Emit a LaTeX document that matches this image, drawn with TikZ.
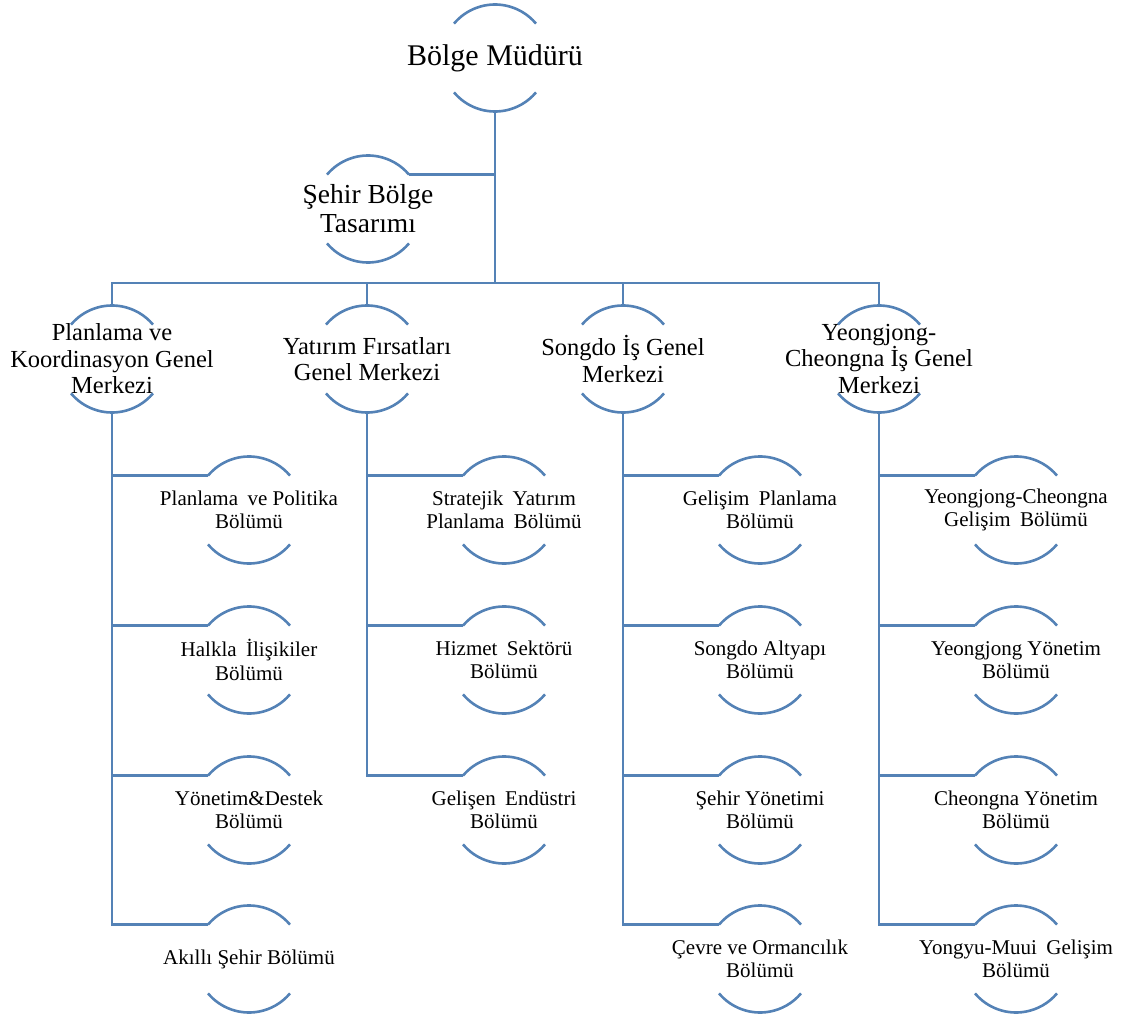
\documentclass[tikz,border=0pt]{standalone}
\usepackage{fontspec}
\setmainfont{Liberation Serif}
\definecolor{lineblue}{RGB}{84,130,182}
\newcommand\wsp{\hspace{0.45em}}
\begin{document}
\begin{tikzpicture}[x=1pt,y=1pt,
  bx/.style={circle, minimum size=107pt, inner sep=0pt, outer sep=0pt},
  ln/.style={draw=lineblue, line width=2.6pt},
  tone/.style={font=\fontsize{30}{33}\selectfont, align=center, inner sep=0pt},
  tsb/.style={font=\fontsize{27.5}{29}\selectfont, align=center, inner sep=0pt},
  ttwo/.style={font=\fontsize{24.5}{26.5}\selectfont, align=center, inner sep=0pt},
  tchild/.style={font=\fontsize{21}{23.5}\selectfont, align=center, inner sep=0pt}]
\useasboundingbox (0,0) rectangle (1122,-1019);
% top
\node[bx, label={[tone]center:{Bölge Müdürü}}] (bm) at (495,-58) {};
\node[bx, label={[tsb]center:{Şehir Bölge\\Tasarımı}}] (sb) at (368,-209) {};
% level 2
\node[bx, label={[ttwo]center:{Planlama ve\\Koordinasyon Genel\\Merkezi}}] (l1) at (112,-359) {};
\node[bx, label={[ttwo]center:{Yatırım Fırsatları\\Genel Merkezi}}] (l2) at (367,-359) {};
\node[bx, label={[ttwo]center:{Songdo İş Genel\\Merkezi}}] (l3) at (623,-359) {};
\node[bx, label={[ttwo]center:{Yeongjong-\\Cheongna İş Genel\\Merkezi}}] (l4) at (879,-359) {};
% children col 1
\node[bx, label={[tchild]center:{Planlama\wsp ve Politika\\Bölümü}}] (c11) at (249,-510) {};
\node[bx, label={[tchild]center:{Halkla\wsp İlişikiler\\Bölümü}}] (c12) at (249,-660) {};
\node[bx, label={[tchild]center:{Yönetim\&Destek\\Bölümü}}] (c13) at (249,-810) {};
\node[bx, label={[tchild]center:{Akıllı Şehir Bölümü}}] (c14) at (249,-959) {};
% col 2
\node[bx, label={[tchild]center:{Stratejik\wsp Yatırım\\Planlama\wsp Bölümü}}] (c21) at (504,-510) {};
\node[bx, label={[tchild]center:{Hizmet\wsp Sektörü\\Bölümü}}] (c22) at (504,-660) {};
\node[bx, label={[tchild]center:{Gelişen\wsp Endüstri\\Bölümü}}] (c23) at (504,-810) {};
% col 3
\node[bx, label={[tchild]center:{Gelişim\wsp Planlama\\Bölümü}}] (c31) at (760,-510) {};
\node[bx, label={[tchild]center:{Songdo Altyapı\\Bölümü}}] (c32) at (760,-660) {};
\node[bx, label={[tchild]center:{Şehir Yönetimi\\Bölümü}}] (c33) at (760,-810) {};
\node[bx, label={[tchild]center:{Çevre ve Ormancılık\\Bölümü}}] (c34) at (760,-959) {};
% col 4
\node[bx, label={[tchild]center:{Yeongjong-Cheongna\\Gelişim\wsp Bölümü}}] (c41) at (1016,-510) {};
\node[bx, label={[tchild]center:{Yeongjong Yönetim\\Bölümü}}] (c42) at (1016,-660) {};
\node[bx, label={[tchild]center:{Cheongna Yönetim\\Bölümü}}] (c43) at (1016,-810) {};
\node[bx, label={[tchild]center:{Yongyu-Muui\wsp Gelişim\\Bölümü}}] (c44) at (1016,-959) {};
% bracket arcs
\foreach \n in {bm,sb,l1,l2,l3,l4,c11,c12,c13,c14,c21,c22,c23,c31,c32,c33,c34,c41,c42,c43,c44}{
  \draw[ln] (\n.140) arc[start angle=140, end angle=40, radius=53.5pt];
  \draw[ln] (\n.220) arc[start angle=220, end angle=320, radius=53.5pt];
}
% connectors
\coordinate (bus) at (495,-283);
\draw[ln] (bm.south) -- (bus);
\draw[ln] (sb.40) -- (sb.40 -| bm.south);
\draw[ln] (l1.north) -- (l1.north |- bus) -- (l4.north |- bus) -- (l4.north);
\draw[ln] (l2.north) -- (l2.north |- bus);
\draw[ln] (l3.north) -- (l3.north |- bus);
% column 1
\draw[ln] (l1.south) |- (c14.140);
\draw[ln] (l1.south |- c11.140) -- (c11.140);
\draw[ln] (l1.south |- c12.140) -- (c12.140);
\draw[ln] (l1.south |- c13.140) -- (c13.140);
% column 2
\draw[ln] (l2.south) |- (c23.140);
\draw[ln] (l2.south |- c21.140) -- (c21.140);
\draw[ln] (l2.south |- c22.140) -- (c22.140);
% column 3
\draw[ln] (l3.south) |- (c34.140);
\draw[ln] (l3.south |- c31.140) -- (c31.140);
\draw[ln] (l3.south |- c32.140) -- (c32.140);
\draw[ln] (l3.south |- c33.140) -- (c33.140);
% column 4
\draw[ln] (l4.south) |- (c44.140);
\draw[ln] (l4.south |- c41.140) -- (c41.140);
\draw[ln] (l4.south |- c42.140) -- (c42.140);
\draw[ln] (l4.south |- c43.140) -- (c43.140);
\end{tikzpicture}
\end{document}
